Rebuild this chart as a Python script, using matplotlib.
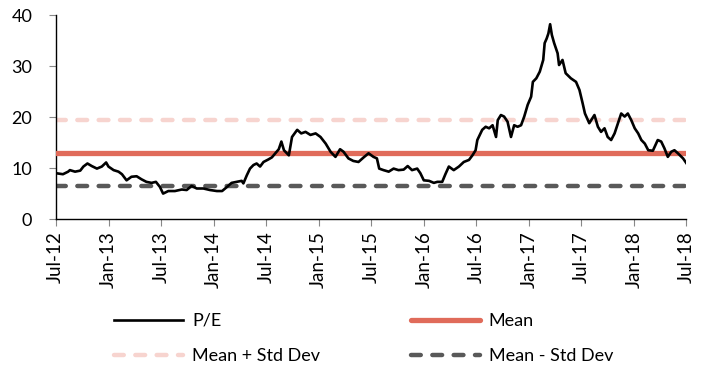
import pandas as pd
import matplotlib
matplotlib.use('Agg')
import matplotlib.pyplot as plt
import matplotlib.dates as mdates

# P/E history
dates = ['2012-07-01', '2012-07-26', '2012-08-13', '2012-08-19', '2012-09-06', '2012-09-24',
         '2012-10-05', '2012-10-19', '2012-11-03', '2012-11-21', '2012-12-08', '2012-12-23',
         '2012-12-31', '2013-01-18', '2013-02-04', '2013-02-16', '2013-03-04', '2013-03-21',
         '2013-04-08', '2013-04-25', '2013-05-12', '2013-05-30', '2013-06-14', '2013-06-28',
         '2013-07-09', '2013-07-27', '2013-08-19', '2013-09-12', '2013-09-29', '2013-10-16',
         '2013-11-03', '2013-11-26', '2013-12-19', '2014-01-12', '2014-01-30', '2014-02-16',
         '2014-03-04', '2014-03-22', '2014-04-08', '2014-04-14', '2014-04-26', '2014-05-07',
         '2014-05-19', '2014-05-30', '2014-06-11', '2014-06-23', '2014-07-10', '2014-07-22',
         '2014-08-03', '2014-08-15', '2014-08-24', '2014-09-02', '2014-09-19', '2014-09-30',
         '2014-10-18', '2014-11-01', '2014-11-16', '2014-12-03', '2014-12-21', '2015-01-07',
         '2015-01-25', '2015-02-11', '2015-02-28', '2015-03-16', '2015-03-28', '2015-04-14',
         '2015-05-01', '2015-05-19', '2015-06-06', '2015-06-23', '2015-07-10', '2015-07-22',
         '2015-07-30', '2015-08-14', '2015-09-01', '2015-09-18', '2015-10-05', '2015-10-23',
         '2015-11-06', '2015-11-21', '2015-12-09', '2015-12-20', '2016-01-01', '2016-01-19',
         '2016-02-05', '2016-02-17', '2016-03-05', '2016-03-16', '2016-03-28', '2016-04-14',
         '2016-05-02', '2016-05-19', '2016-06-06', '2016-06-18', '2016-06-29', '2016-07-05',
         '2016-07-16', '2016-07-22', '2016-08-03', '2016-08-15', '2016-08-27', '2016-09-08',
         '2016-09-14', '2016-09-25', '2016-10-06', '2016-10-18', '2016-10-30', '2016-11-10',
         '2016-11-22', '2016-12-04', '2016-12-15', '2016-12-27', '2017-01-08', '2017-01-14',
         '2017-01-26', '2017-02-07', '2017-02-19', '2017-02-24', '2017-03-03', '2017-03-09',
         '2017-03-15', '2017-03-21', '2017-03-29', '2017-04-10', '2017-04-15', '2017-04-27',
         '2017-05-08', '2017-05-26', '2017-06-13', '2017-06-25', '2017-07-06', '2017-07-14',
         '2017-07-29', '2017-08-16', '2017-08-28', '2017-09-08', '2017-09-20', '2017-10-01',
         '2017-10-13', '2017-10-25', '2017-11-06', '2017-11-17', '2017-11-29', '2017-12-10',
         '2017-12-22', '2018-01-03', '2018-01-15', '2018-01-26', '2018-02-07', '2018-02-19',
         '2018-03-07', '2018-03-24', '2018-04-05', '2018-04-16', '2018-04-28', '2018-05-10',
         '2018-05-21', '2018-06-02', '2018-06-20', '2018-07-01']
pe = [9.0, 8.8, 9.3, 9.6, 9.3, 9.5,
      10.3, 10.9, 10.4, 9.9, 10.3, 11.1,
      10.3, 9.6, 9.3, 8.8, 7.6, 8.3,
      8.4, 7.8, 7.3, 7.1, 7.3, 6.3,
      5.0, 5.5, 5.5, 5.8, 5.7, 6.5,
      6.0, 6.0, 5.7, 5.5, 5.5, 6.3,
      7.1, 7.3, 7.5, 7.0, 8.6, 9.9,
      10.6, 10.9, 10.3, 11.2, 11.7, 12.1,
      12.9, 13.7, 15.2, 13.5, 12.5, 16.1,
      17.5, 16.8, 17.1, 16.5, 16.8, 16.1,
      14.8, 13.2, 12.2, 13.7, 13.2, 11.9,
      11.4, 11.2, 12.1, 12.9, 12.2, 11.9,
      9.9, 9.6, 9.3, 9.9, 9.6, 9.7,
      10.4, 9.6, 9.9, 9.0, 7.6, 7.5,
      7.1, 7.3, 7.3, 8.8, 10.3, 9.6,
      10.3, 11.2, 11.6, 12.5, 13.5, 15.5,
      16.8, 17.5, 18.1, 17.8, 18.4, 16.1,
      19.4, 20.4, 20.1, 19.1, 16.1, 18.4,
      18.1, 18.4, 20.1, 22.4, 24.0, 26.9,
      27.6, 28.9, 31.2, 34.5, 35.4, 36.4,
      38.2, 36.1, 34.5, 32.5, 30.2, 31.2,
      28.6, 27.6, 26.9, 25.3, 22.7, 20.7,
      18.8, 20.4, 18.1, 17.1, 17.8, 16.1,
      15.5, 16.8, 18.8, 20.7, 20.1, 20.7,
      19.4, 17.8, 16.8, 15.5, 14.8, 13.5,
      13.4, 15.5, 15.2, 13.9, 12.2, 13.2,
      13.5, 12.9, 11.9, 11.0]

mean_pe = 12.9
mean_plus_std = 19.4
mean_minus_std = 6.5

x = pd.to_datetime(dates)
start, end = pd.Timestamp('2012-07-01'), pd.Timestamp('2018-07-01')

plt.rcParams['font.family'] = ['Lato', 'DejaVu Sans']

fig = plt.figure(figsize=(7.06, 3.67), dpi=100)
ax = fig.add_axes([0.079, 0.403, 0.893, 0.556])

l_pe, = ax.plot(x, pe, color='black', lw=1.9, label='P/E', zorder=4)
l_mean, = ax.plot([start, end], [mean_pe, mean_pe], color='#E06B5A', lw=3.8,
                  solid_capstyle='round', label='Mean', zorder=3)
l_up, = ax.plot([start, end], [mean_plus_std, mean_plus_std], color='#F7D4CF', lw=3.2,
                dashes=(2.2, 2.6), dash_capstyle='round', label='Mean + Std Dev', zorder=2)
l_dn, = ax.plot([start, end], [mean_minus_std, mean_minus_std], color='#595959', lw=3.2,
                dashes=(2.2, 2.6), dash_capstyle='round', label='Mean - Std Dev', zorder=2)

ax.set_xlim(start, end)
ax.set_ylim(0, 40)
ax.set_yticks([0, 10, 20, 30, 40])
ax.xaxis.set_major_locator(mdates.MonthLocator(bymonth=[1, 7]))
ax.xaxis.set_major_formatter(mdates.DateFormatter('%b-%y'))
ax.tick_params(axis='x', labelrotation=90, labelsize=13.5, length=5, width=0.8,
               color='#888888', pad=4)
ax.tick_params(axis='y', labelsize=13, length=5, width=0.8, color='#888888', pad=12)
for side in ['top', 'right']:
    ax.spines[side].set_visible(False)
for side in ['left', 'bottom']:
    ax.spines[side].set_linewidth(1.0)

# legend fills column by column, so order handles to read row by row
fig.legend([l_pe, l_up, l_mean, l_dn],
           ['P/E', 'Mean + Std Dev', 'Mean', 'Mean - Std Dev'],
           loc='lower left', bbox_to_anchor=(0.139, -0.037), ncol=2, frameon=False,
           fontsize=13, handlelength=3.8, handletextpad=0.5, columnspacing=5.05,
           labelspacing=1.08)

fig.savefig('out.png', dpi=100)
